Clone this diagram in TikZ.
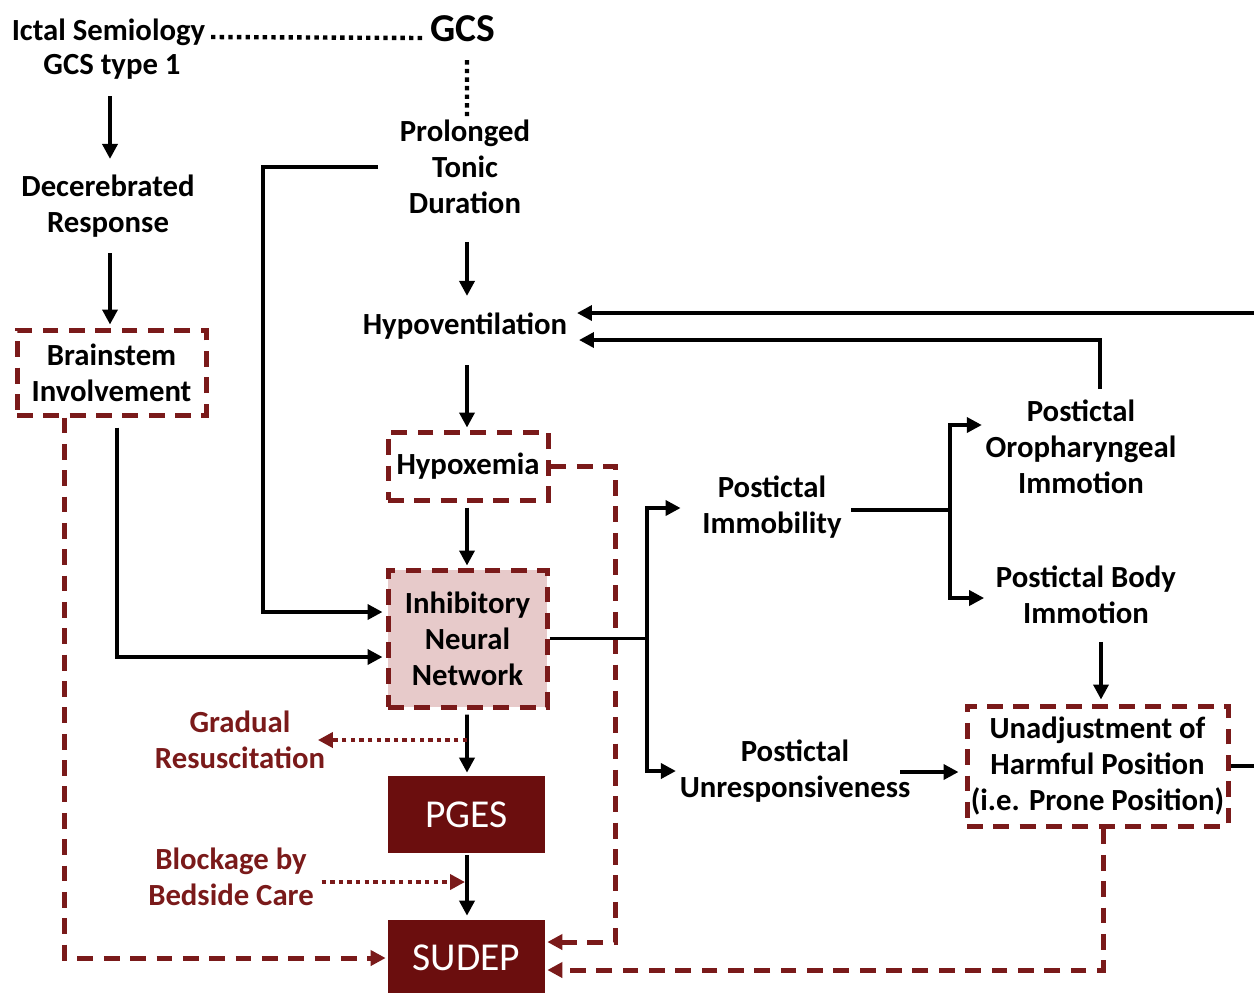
\documentclass[tikz,border=0pt]{standalone}
\usepackage{fontspec}
\setmainfont{Carlito}
\usetikzlibrary{arrows.meta,calc}
\definecolor{dred}{HTML}{7A1A1A}
\definecolor{boxred}{HTML}{6B0E0E}
\definecolor{pinkf}{HTML}{E7CACA}
\def\pxu{0.02cm}
\begin{document}
\begin{tikzpicture}[x=0.02cm,y=-0.02cm,
  lbl/.style={font=\fontsize{17.5}{20.5}\selectfont\bfseries, align=center, inner sep=2pt},
  redlbl/.style={lbl, text=dred},
  dbox/.style={lbl, draw=dred, line width=5*\pxu, dash pattern=on 9pt off 6pt},
  solidbox/.style={fill=boxred, text=white, font=\fontsize{22.5}{26}\selectfont, minimum width=157*\pxu, minimum height=77*\pxu, inner sep=0pt},
  tip/.style={-{Triangle[length=8.5pt,width=8.5pt]}},
  plain/.style={line width=3.6*\pxu},
  arr/.style={plain, tip},
  darr/.style={draw=dred, line width=5*\pxu, dash pattern=on 9pt off 6pt, tip, color=dred},
  dotline/.style={line width=2.5pt, dash pattern=on 2.5pt off 2.4pt},
  reddotarr/.style={dotline, color=dred, tip}
]
\useasboundingbox (0,0) rectangle (1254,992);

% text nodes
\node[lbl, anchor=base] (ictal) at (108.5,40) {Ictal Semiology};
\node[lbl, anchor=base, font=\fontsize{22.5}{25}\selectfont\bfseries] (gcs) at (462.5,41) {GCS};
\node[lbl] (type1) at (112,67) {GCS type 1};
\node[lbl] (decer) at (108,206) {Decerebrated\\Response};
\node[dbox, minimum width=189*\pxu, minimum height=85*\pxu] (brain) at (111.5,372.5) {Brainstem\\Involvement};
\node[lbl] (ptd) at (465,167) {Prolonged\\Tonic\\Duration};
\node[lbl] (hyp) at (465,326) {Hypoventilation};
\node[dbox, minimum width=160*\pxu, minimum height=68*\pxu] (hypox) at (468,466) {Hypoxemia};
\node[dbox, fill=pinkf, minimum width=159*\pxu, minimum height=137*\pxu] (inn) at (467.5,638.5) {Inhibitory\\Neural\\Network};
\node[solidbox] (pges) at (466.5,814.5) {PGES};
\node[solidbox, minimum height=76*\pxu] (sudep) at (466.5,958) {SUDEP};
\node[redlbl] (grad) at (240,740) {Gradual\\Resuscitation};
\node[redlbl] (block) at (231,877) {Blockage by\\Bedside Care};
\node[lbl] (imm) at (772,507) {Postictal\\Immobility};
\node[lbl] (unresp) at (795,771) {Postictal\\Unresponsiveness};
\node[lbl] (oro) at (1081,447) {Postictal\\Oropharyngeal\\Immotion};
\node[lbl] (body) at (1086,595) {Postictal Body\\Immotion};
\node[dbox, minimum width=261*\pxu, minimum height=120*\pxu] (unadj) at (1097.5,766) {Unadjustment of\\Harmful Position\\(i.e. Prone Position)};

% helper coordinates
\coordinate (s1) at (647,638.5);
\coordinate (s2) at (950,510);
\coordinate (eA) at (1254,766);
\coordinate (eB) at (1254,313);
\coordinate (g1) at (467,740);
\coordinate (b1) at (465,882);

% dotted top
\draw[dotline] ($(ictal.base east)+(2,-3)$) -- ($(gcs.base west)+(-2,-3)$);
\draw[dotline] ($(gcs.south)+(4.5,15)$) -- ($(ptd.north)+(2,0)$);

% left column
\draw[arr] ($(type1.south)+(-2,13)$) -- ($(decer.north)+(2,-12)$);
\draw[arr] ($(decer.south)+(2,12)$) -- ($(brain.north)+(-1.5,-3)$);
\draw[arr] ($(brain.south)+(5.5,10)$) |- ($(inn.west)+(-3,18.5)$);
\draw[darr] ($(brain.south west)+(50,0)$) |- ($(sudep.west)+(-2,0)$);

% centre column
\draw[arr] ($(ptd.west)+(-18,0)$) -- (263,167) |- ($(inn.west)+(-3,-26.5)$);
\draw[arr] ($(ptd.south)+(2,24)$) -- ($(hyp.north)+(2,-13)$);
\draw[arr] ($(hyp.south)+(2,22)$) -- ($(hypox.north)+(-1,-2)$);
\draw[arr] ($(hypox.south)+(-1,5)$) -- ($(inn.north)+(-0.5,-2)$);
\draw[arr] ($(inn.south)+(-0.5,5)$) -- ($(pges.north)+(0.5,-3)$);
\draw[arr] ($(pges.south)+(0.5,2)$) -- ($(sudep.north)+(0.5,-4)$);
\draw[darr] (hypox.east) -- ++(65,0) |- ($(sudep.east)+(2,-16)$);

% right branches
\draw[plain] (inn.east) -- (s1);
\draw[arr] (s1) |- ($(imm.west)+(-18,1)$);
\draw[arr] (s1) |- (unresp.west);
\draw[plain] ($(imm.east)+(6,3)$) -- (s2);
\draw[arr] (s2) |- ($(oro.west)+(0,-22)$);
\draw[arr] (s2) |- ($(body.west)+(-8,3)$);
\draw[arr] ($(body.south -| unadj.north)+(3.5,14)$) -- ($(unadj.north)+(3.5,-4)$);
\draw[arr] ($(unresp.east)+(-14,1)$) -- ($(unadj.west)+(-6,6)$);
\draw[arr] ($(oro.north)+(19,-7)$) |- ($(hyp.east)+(8,14)$);
\draw[arr] (eB) -- ($(hyp.east)+(6,-13)$);
\draw[plain] (unadj.east) -- (eA);
\draw[darr] ($(unadj.south)+(5.5,0)$) |- ($(sudep.east)+(2,12)$);

% red dotted
\draw[reddotarr] (g1) -- ($(grad.east)+(-11,0)$);
\draw[reddotarr] ($(block.east)+(4,5)$) -- (b1);
\end{tikzpicture}
\end{document}
